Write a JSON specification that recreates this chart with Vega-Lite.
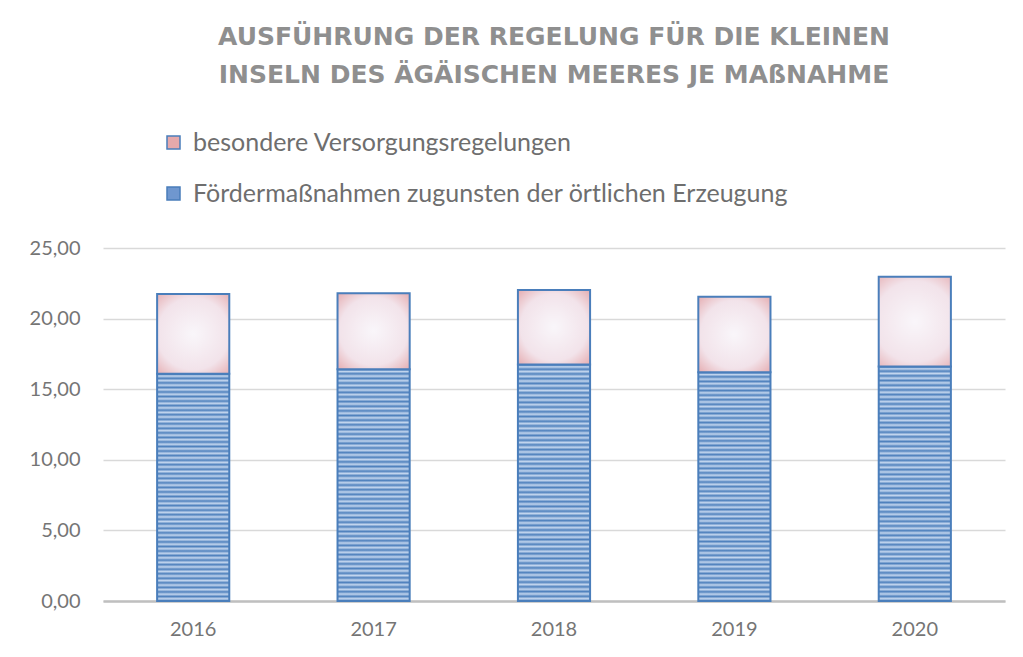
{
  "$schema": "https://vega.github.io/schema/vega-lite/v6.json",
  "width": 902,
  "height": 353,
  "autosize": {"type": "none"},
  "padding": {"left": 103, "top": 248, "right": 18, "bottom": 56},
  "background": "white",
  "title": {
    "text": ["AUSFÜHRUNG DER REGELUNG FÜR DIE KLEINEN", "INSELN DES ÄGÄISCHEN MEERES JE MAßNAHME"],
    "anchor": "middle",
    "frame": "group",
    "font": "DejaVu Sans",
    "fontSize": 25,
    "fontWeight": "bold",
    "color": "#8f8f8f",
    "lineHeight": 38,
    "offset": 42
  },
  "data": {
    "values": [
      {"year": "2016", "series": "Fördermaßnahmen zugunsten der örtlichen Erzeugung", "value": 16.09},
      {"year": "2016", "series": "besondere Versorgungsregelungen", "value": 5.66},
      {"year": "2017", "series": "Fördermaßnahmen zugunsten der örtlichen Erzeugung", "value": 16.42},
      {"year": "2017", "series": "besondere Versorgungsregelungen", "value": 5.37},
      {"year": "2018", "series": "Fördermaßnahmen zugunsten der örtlichen Erzeugung", "value": 16.75},
      {"year": "2018", "series": "besondere Versorgungsregelungen", "value": 5.28},
      {"year": "2019", "series": "Fördermaßnahmen zugunsten der örtlichen Erzeugung", "value": 16.20},
      {"year": "2019", "series": "besondere Versorgungsregelungen", "value": 5.35},
      {"year": "2020", "series": "Fördermaßnahmen zugunsten der örtlichen Erzeugung", "value": 16.61},
      {"year": "2020", "series": "besondere Versorgungsregelungen", "value": 6.36}
    ]
  },
  "encoding": {
    "x": {
      "field": "year",
      "type": "nominal",
      "scale": {"paddingInner": 0.6, "paddingOuter": 0.3},
      "axis": {
        "title": null,
        "labelAngle": 0,
        "labelFont": "Lato",
        "labelFontSize": 20,
        "labelColor": "#757575",
        "labelPadding": 18,
        "ticks": false,
        "domainColor": "#bfbfbf",
        "domainWidth": 2.5,
        "grid": false
      }
    },
    "y": {
      "field": "value",
      "type": "quantitative",
      "stack": "zero",
      "scale": {"domain": [0, 25], "nice": false},
      "axis": {
        "title": null,
        "values": [0, 5, 10, 15, 20, 25],
        "labelExpr": "replace(format(datum.value, '.2f'), '.', ',')",
        "labelFont": "Lato",
        "labelFontSize": 20,
        "labelColor": "#757575",
        "labelPadding": 23,
        "ticks": false,
        "domain": false,
        "grid": true,
        "gridColor": "#d9d9d9",
        "gridWidth": 1.5
      }
    },
    "order": {"field": "series", "sort": "ascending"}
  },
  "layer": [
    {
      "mark": {"type": "bar"},
      "encoding": {
        "color": {
          "field": "series",
          "type": "nominal",
          "scale": {
            "domain": ["besondere Versorgungsregelungen", "Fördermaßnahmen zugunsten der örtlichen Erzeugung"],
            "range": ["#e6a9ab", "#6f97cf"]
          },
          "legend": {
            "orient": "none",
            "legendX": 58,
            "legendY": -118,
            "direction": "vertical",
            "title": null,
            "padding": 0,
            "symbolType": "square",
            "symbolSize": 169,
            "symbolStrokeColor": "#4a7ebb",
            "symbolStrokeWidth": 1.5,
            "symbolOpacity": 1,
            "labelFont": "Lato",
            "labelFontSize": 25,
            "labelColor": "#6e6e6e",
            "labelOffset": 7,
            "labelLimit": 0,
            "rowPadding": 25,
            "encode": {
              "symbols": {
                "update": {
                  "stroke": {"value": "#4a7ebb"},
                  "strokeWidth": {"value": 1.5},
                  "fill": {"signal": "datum.value === 'besondere Versorgungsregelungen' ? {gradient: 'radial', x1: 0.5, y1: 0.5, r1: 0, x2: 0.5, y2: 0.5, r2: 0.72, stops: [{offset: 0, color: '#e8b0b2'}, {offset: 1, color: '#d98487'}]} : {gradient: 'linear', x1: 0, y1: 0, x2: 0, y2: 1, stops: [{offset: 0, color: '#4f81bd'}, {offset: 0.1, color: '#c6d7ee'}, {offset: 0.2, color: '#4f81bd'}, {offset: 0.3, color: '#c6d7ee'}, {offset: 0.4, color: '#4f81bd'}, {offset: 0.5, color: '#c6d7ee'}, {offset: 0.6, color: '#4f81bd'}, {offset: 0.7, color: '#c6d7ee'}, {offset: 0.8, color: '#4f81bd'}, {offset: 0.9, color: '#c6d7ee'}, {offset: 1, color: '#4f81bd'}]}"}
                }
              }
            }
          }
        }
      }
    },
    {
      "mark": {"type": "bar", "stroke": "#4a7ebb", "strokeWidth": 2},
      "encoding": {
        "fill": {
          "condition": {
            "test": "datum.series === 'besondere Versorgungsregelungen'",
            "value": {"gradient": "radial", "x1": 0.5, "y1": 0.5, "r1": 0, "x2": 0.5, "y2": 0.5, "r2": 0.75,
              "stops": [{"offset": 0, "color": "#f9f6fa"}, {"offset": 0.6, "color": "#f2e3ea"}, {"offset": 1, "color": "#e2a0a3"}]}
          },
          "value": {"gradient": "linear", "x1": 0, "y1": 0, "x2": 0, "y2": 1, "stops": [
            {"offset":0,"color":"#4f81bd"},{"offset":0.01,"color":"#c2d5ee"},{"offset":0.02,"color":"#4f81bd"},{"offset":0.03,"color":"#c2d5ee"},{"offset":0.04,"color":"#4f81bd"},{"offset":0.05,"color":"#c2d5ee"},{"offset":0.06,"color":"#4f81bd"},{"offset":0.07,"color":"#c2d5ee"},{"offset":0.08,"color":"#4f81bd"},{"offset":0.09,"color":"#c2d5ee"},
            {"offset":0.10,"color":"#4f81bd"},{"offset":0.11,"color":"#c2d5ee"},{"offset":0.12,"color":"#4f81bd"},{"offset":0.13,"color":"#c2d5ee"},{"offset":0.14,"color":"#4f81bd"},{"offset":0.15,"color":"#c2d5ee"},{"offset":0.16,"color":"#4f81bd"},{"offset":0.17,"color":"#c2d5ee"},{"offset":0.18,"color":"#4f81bd"},{"offset":0.19,"color":"#c2d5ee"},
            {"offset":0.20,"color":"#4f81bd"},{"offset":0.21,"color":"#c2d5ee"},{"offset":0.22,"color":"#4f81bd"},{"offset":0.23,"color":"#c2d5ee"},{"offset":0.24,"color":"#4f81bd"},{"offset":0.25,"color":"#c2d5ee"},{"offset":0.26,"color":"#4f81bd"},{"offset":0.27,"color":"#c2d5ee"},{"offset":0.28,"color":"#4f81bd"},{"offset":0.29,"color":"#c2d5ee"},
            {"offset":0.30,"color":"#4f81bd"},{"offset":0.31,"color":"#c2d5ee"},{"offset":0.32,"color":"#4f81bd"},{"offset":0.33,"color":"#c2d5ee"},{"offset":0.34,"color":"#4f81bd"},{"offset":0.35,"color":"#c2d5ee"},{"offset":0.36,"color":"#4f81bd"},{"offset":0.37,"color":"#c2d5ee"},{"offset":0.38,"color":"#4f81bd"},{"offset":0.39,"color":"#c2d5ee"},
            {"offset":0.40,"color":"#4f81bd"},{"offset":0.41,"color":"#c2d5ee"},{"offset":0.42,"color":"#4f81bd"},{"offset":0.43,"color":"#c2d5ee"},{"offset":0.44,"color":"#4f81bd"},{"offset":0.45,"color":"#c2d5ee"},{"offset":0.46,"color":"#4f81bd"},{"offset":0.47,"color":"#c2d5ee"},{"offset":0.48,"color":"#4f81bd"},{"offset":0.49,"color":"#c2d5ee"},
            {"offset":0.50,"color":"#4f81bd"},{"offset":0.51,"color":"#c2d5ee"},{"offset":0.52,"color":"#4f81bd"},{"offset":0.53,"color":"#c2d5ee"},{"offset":0.54,"color":"#4f81bd"},{"offset":0.55,"color":"#c2d5ee"},{"offset":0.56,"color":"#4f81bd"},{"offset":0.57,"color":"#c2d5ee"},{"offset":0.58,"color":"#4f81bd"},{"offset":0.59,"color":"#c2d5ee"},
            {"offset":0.60,"color":"#4f81bd"},{"offset":0.61,"color":"#c2d5ee"},{"offset":0.62,"color":"#4f81bd"},{"offset":0.63,"color":"#c2d5ee"},{"offset":0.64,"color":"#4f81bd"},{"offset":0.65,"color":"#c2d5ee"},{"offset":0.66,"color":"#4f81bd"},{"offset":0.67,"color":"#c2d5ee"},{"offset":0.68,"color":"#4f81bd"},{"offset":0.69,"color":"#c2d5ee"},
            {"offset":0.70,"color":"#4f81bd"},{"offset":0.71,"color":"#c2d5ee"},{"offset":0.72,"color":"#4f81bd"},{"offset":0.73,"color":"#c2d5ee"},{"offset":0.74,"color":"#4f81bd"},{"offset":0.75,"color":"#c2d5ee"},{"offset":0.76,"color":"#4f81bd"},{"offset":0.77,"color":"#c2d5ee"},{"offset":0.78,"color":"#4f81bd"},{"offset":0.79,"color":"#c2d5ee"},
            {"offset":0.80,"color":"#4f81bd"},{"offset":0.81,"color":"#c2d5ee"},{"offset":0.82,"color":"#4f81bd"},{"offset":0.83,"color":"#c2d5ee"},{"offset":0.84,"color":"#4f81bd"},{"offset":0.85,"color":"#c2d5ee"},{"offset":0.86,"color":"#4f81bd"},{"offset":0.87,"color":"#c2d5ee"},{"offset":0.88,"color":"#4f81bd"},{"offset":0.89,"color":"#c2d5ee"},
            {"offset":0.90,"color":"#4f81bd"},{"offset":0.91,"color":"#c2d5ee"},{"offset":0.92,"color":"#4f81bd"},{"offset":0.93,"color":"#c2d5ee"},{"offset":0.94,"color":"#4f81bd"},{"offset":0.95,"color":"#c2d5ee"},{"offset":0.96,"color":"#4f81bd"},{"offset":0.97,"color":"#c2d5ee"},{"offset":0.98,"color":"#4f81bd"},{"offset":0.99,"color":"#c2d5ee"},
            {"offset":1,"color":"#4f81bd"}
          ]}
        }
      }
    }
  ],
  "config": {
    "view": {"stroke": null}
  }
}
